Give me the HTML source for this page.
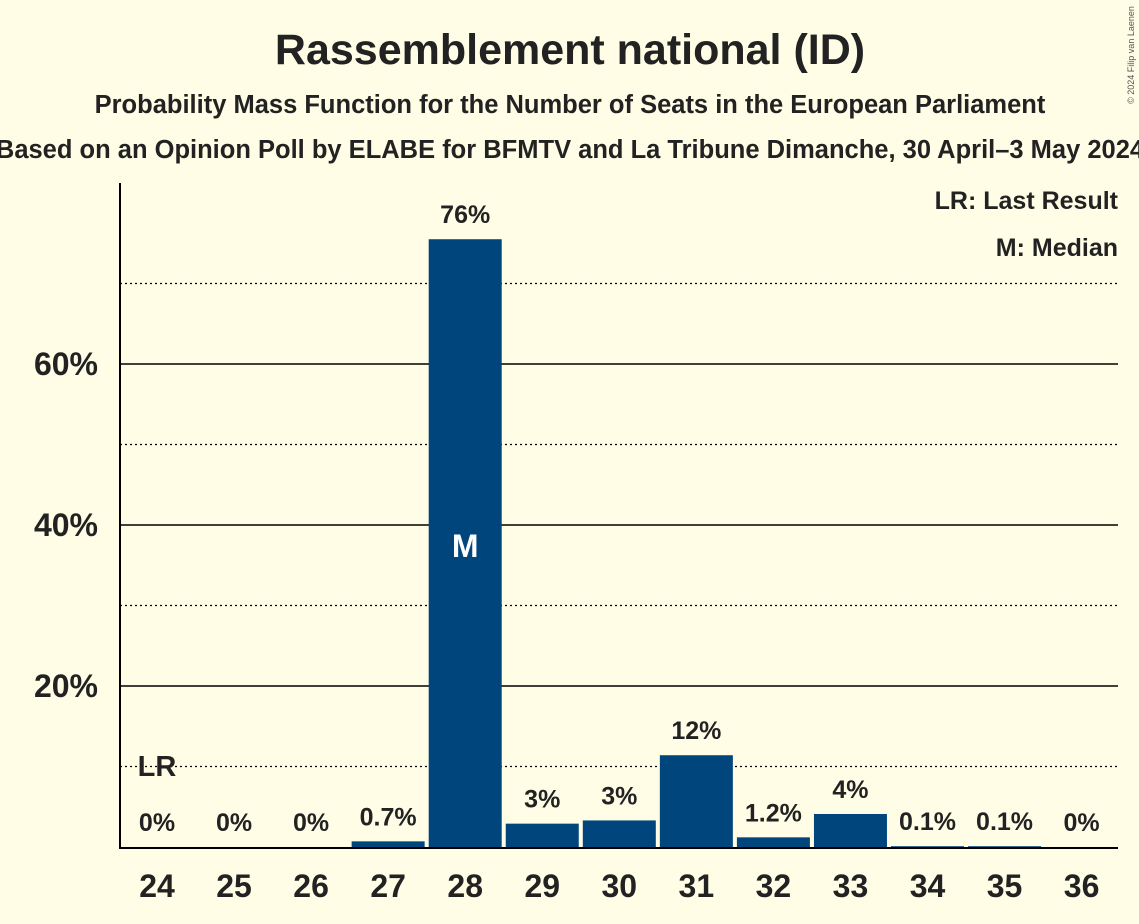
<!DOCTYPE html>
<html><head><meta charset="utf-8"><style>
body{margin:0;background:#fffde6;}
svg{display:block;font-family:"Liberation Sans",sans-serif;}
</style></head><body>
<svg id="chart" width="1139" height="924">
<rect width="1139" height="924" fill="#fffde6"/>
<text x="570" y="64" text-anchor="middle" font-size="43" font-weight="bold" fill="#222">Rassemblement national (ID)</text>
<text x="570" y="113" text-anchor="middle" font-size="25.5" font-weight="bold" fill="#222">Probability Mass Function for the Number of Seats in the European Parliament</text>
<text x="570" y="158" text-anchor="middle" font-size="25.5" font-weight="bold" fill="#222">Based on an Opinion Poll by ELABE for BFMTV and La Tribune Dimanche, 30 April–3 May 2024</text>
<text transform="translate(1134,55) rotate(-90)" text-anchor="middle" font-size="9" fill="#555">© 2024 Filip van Laenen</text>
<g id="grid"></g>
<g id="bars"></g>
<line x1="120" y1="183" x2="120" y2="848" stroke="#000" stroke-width="2"/>
<line x1="119" y1="848" x2="1118" y2="848" stroke="#000" stroke-width="2"/>
<text x="1118" y="209" text-anchor="end" font-size="25" font-weight="bold" fill="#222">LR: Last Result</text>
<text x="1118" y="256" text-anchor="end" font-size="25" font-weight="bold" fill="#222">M: Median</text>
</svg>
<script>
const categories=[24,25,26,27,28,29,30,31,32,33,34,35,36];
const values=[0,0,0,0.7,75.5,2.9,3.3,11.4,1.2,4.1,0.1,0.1,0];
const valueLabels=["0%","0%","0%","0.7%","76%","3%","3%","12%","1.2%","4%","0.1%","0.1%","0%"];
const majorTicks=[20,40,60];
const minorTicks=[10,30,50,70];
const lastResult=24;
const median=28;
const NS="http://www.w3.org/2000/svg";
const y=v=>847-v*8.05;
const x=c=>157+(c-24)*77.05;
function mk(tag,attrs,parent,text){const e=document.createElementNS(NS,tag);for(const k in attrs)e.setAttribute(k,attrs[k]);if(text!==undefined)e.textContent=text;parent.appendChild(e);return e;}
const grid=document.getElementById('grid'),bars=document.getElementById('bars');
minorTicks.forEach(t=>{const l=mk('line',{x1:120,x2:1118,y1:y(t),y2:y(t),stroke:'#000','stroke-width':1.2,'stroke-dasharray':'2,3'},grid);

});
majorTicks.forEach(t=>{const l=mk('line',{x1:120,x2:1118,y1:y(t),y2:y(t),stroke:'#000','stroke-width':1.5},grid);


const tx=mk('text',{x:98,y:y(t)+11,'text-anchor':'end','font-size':32,'font-weight':'bold',fill:'#222'},grid,t+'%');

});
categories.forEach((c,i)=>{
const v=values[i];
if(v>0){const r=mk('rect',{x:x(c)-36.5,y:y(v),width:73,height:847-y(v),fill:'#00457c'},bars);

}
const lab=mk('text',{x:x(c),y:y(v)-16,'text-anchor':'middle','font-size':25,'font-weight':'bold',fill:'#222'},bars,valueLabels[i]);


const xl=mk('text',{x:x(c),y:897,'text-anchor':'middle','font-size':32,'font-weight':'bold',fill:'#222'},bars,String(c));


if(c===lastResult){const t=mk('text',{x:x(c),y:776,'text-anchor':'middle','font-size':29,'font-weight':'bold',fill:'#222'},bars,'LR');

}
if(c===median){const t=mk('text',{x:x(c),y:y(v/2)+14,'text-anchor':'middle','font-size':32,'font-weight':'bold',fill:'#fff'},bars,'M');

}
});
</script>
</body></html>
